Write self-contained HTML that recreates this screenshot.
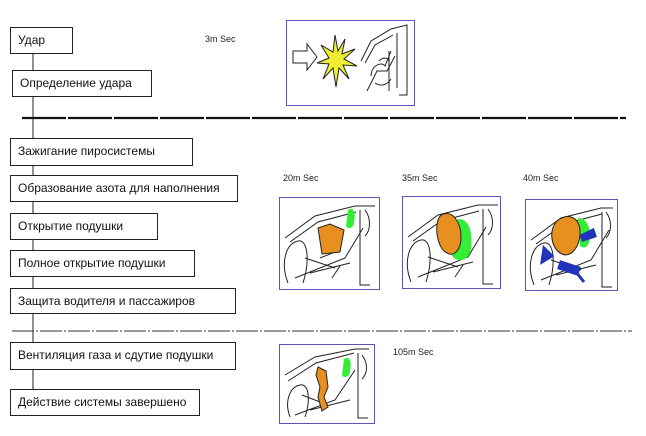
<!DOCTYPE html>
<html><head><meta charset="utf-8"><style>
body{margin:0;width:646px;height:436px;background:#fff;position:relative;overflow:hidden;font-family:"Liberation Sans",sans-serif;}
.b{position:absolute;border:1px solid #222;box-sizing:border-box;font-size:12px;line-height:25px;padding-left:7px;color:#111;background:#fff;white-space:nowrap;}
.t{position:absolute;font-size:9px;color:#222;}
.p{position:absolute;border:1.5px solid #5555bb;box-sizing:border-box;background:#fff;}
svg{position:absolute;}
</style></head><body>
<svg width="646" height="436" style="left:0;top:0">
<line x1="33" y1="54" x2="33" y2="389" stroke="#222" stroke-width="1"/>
<line x1="22" y1="118" x2="626" y2="118" stroke="#111" stroke-width="2.2" stroke-dasharray="44,2"/>
<line x1="12" y1="331" x2="632" y2="331" stroke="#333" stroke-width="1" stroke-dasharray="22,2,2,2"/>
</svg>
<div class="b" style="left:10px;top:27px;width:63px;height:27px">Удар</div>
<div class="b" style="left:12px;top:70px;width:140px;height:27px">Определение удара</div>
<div class="b" style="left:10px;top:138px;width:183px;height:28px">Зажигание пиросистемы</div>
<div class="b" style="left:10px;top:175px;width:228px;height:27px">Образование азота для наполнения</div>
<div class="b" style="left:10px;top:213px;width:148px;height:27px">Открытие подушки</div>
<div class="b" style="left:10px;top:250px;width:185px;height:27px">Полное открытие подушки</div>
<div class="b" style="left:10px;top:288px;width:226px;height:26px">Защита водителя и пассажиров</div>
<div class="b" style="left:10px;top:342px;width:226px;height:28px">Вентиляция газа и сдутие подушки</div>
<div class="b" style="left:10px;top:389px;width:190px;height:27px">Действие системы завершено</div>
<div class="t" style="left:205px;top:34px">3m Sec</div>
<div class="t" style="left:283px;top:173px">20m Sec</div>
<div class="t" style="left:402px;top:173px">35m Sec</div>
<div class="t" style="left:523px;top:173px">40m Sec</div>
<div class="t" style="left:393px;top:347px">105m Sec</div>

<div class="p" style="left:286px;top:20px;width:129px;height:86px">
<svg width="126" height="83" style="left:0;top:0" fill="none" stroke="#222" stroke-width="1">
<path d="M6 30h14v-7l10 13-10 13v-7H6z" fill="#fff"/>
<polygon points="48,14 51,30 58,18 55,33 68,28 57,38 70,45 56,44 62,58 52,47 49,66 46,47 36,58 42,43 30,42 42,37 34,24 46,31" fill="#ee3" stroke="#222"/>
<path d="M74 40l10-20 20-12 16-4v70h-8M78 42l10-18 18-10M80 70l10-20 10 0 8-15M84 55c0-10 10-15 14-10l6-15M102 30v40M110 12v55M88 62c6 4 12 2 16-4M92 40c4-4 8-4 10 0"/>
</svg></div>

<div class="p" style="left:279px;top:197px;width:101px;height:93px">
<svg width="98" height="90" style="left:0;top:0" fill="none" stroke="#222" stroke-width="1">
<path d="M5 40l30-22 40-10h20M10 44l28-20 38-10M80 12v75h10M8 85c-8-20-2-40 10-42 10-2 12 20 5 42M15 80l50-20 18-30M30 75l40-10M25 60l30 10M40 60l20-8M52 80l8-12M85 12c6 8 6 20 0 26"/>
<path d="M38 30l12-4 14 6-4 22-18 2z" fill="#e8901f"/>
<path d="M68 12c6-4 8 4 6 12 0 6-6 8-8 4z" fill="#3e3" stroke="none"/>
</svg></div>

<div class="p" style="left:402px;top:196px;width:99px;height:93px">
<svg width="96" height="90" style="left:0;top:0" fill="none" stroke="#222" stroke-width="1">
<path d="M5 40l30-22 40-10h20M10 44l28-20 38-10M80 12v75h10M8 85c-8-20-2-40 10-42 10-2 12 20 5 42M15 80l50-20 18-30M30 75l40-10M25 60l30 10M52 80l8-12M85 12c6 8 6 20 0 26"/>
<path d="M56 22c10 0 14 14 12 30-2 12-12 14-18 8-6-8-6-36 6-38z" fill="#3e3" stroke="none"/>
<path d="M38 18c12-6 20 8 20 22 0 14-8 20-14 16-10-4-14-30-6-38z" fill="#e8901f"/>
</svg></div>

<div class="p" style="left:525px;top:199px;width:93px;height:92px">
<svg width="90" height="89" style="left:0;top:0" fill="none" stroke="#222" stroke-width="1">
<path d="M5 40l30-22 40-10h12M10 44l28-20 38-10M76 12v75h10M8 85c-8-20-2-40 10-42 10-2 12 20 5 42M15 80l50-20 18-30M30 75l40-10M25 60l30 10M80 12c6 8 6 20 0 26"/>
<path d="M52 18c8 0 12 8 12 18s-6 14-10 10z" fill="#3e3" stroke="none"/>
<path d="M30 22c10-10 24-6 24 10 0 16-10 26-18 22-10-4-14-22-6-32z" fill="#e8901f"/>
<path d="M18 48l8 8-10 6zM55 36l12-6 2 6-12 4zM35 62l18 6-2 6-18-6zM50 72l8 10" fill="#2233bb" stroke="#2233bb" stroke-width="3"/>
</svg></div>

<div class="p" style="left:279px;top:344px;width:96px;height:80px">
<svg width="93" height="77" style="left:0;top:0" fill="none" stroke="#222" stroke-width="1">
<path d="M5 30l30-18 40-8h14M8 36l28-18 38-10M78 8v65h10M10 72c-6-16 0-30 10-32 10-2 10 18 5 32M15 70l40-15 20-30M30 65l40-10M22 50l26 10M82 10c6 8 6 18 0 24"/>
<path d="M64 14c6-4 8 4 6 12 0 6-6 8-8 4z" fill="#3e3" stroke="none"/>
<path d="M38 22l8 4 2 16-4 10 4 10-6 4-4-14 2-10-4-12z" fill="#e8901f"/>
</svg></div>
</body></html>
